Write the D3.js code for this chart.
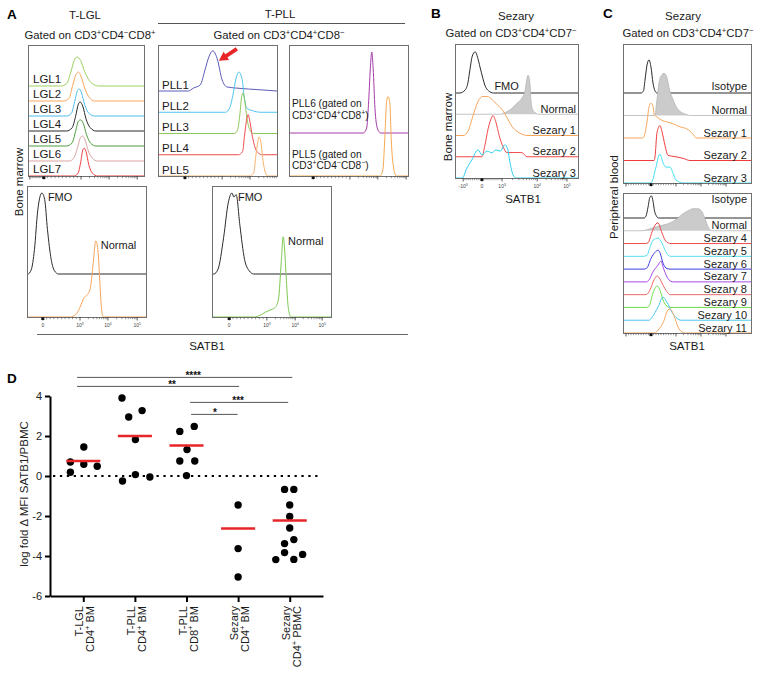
<!DOCTYPE html>
<html><head><meta charset="utf-8">
<script src="https://cdn.jsdelivr.net/npm/d3@7"></script>
<style>body{margin:0;background:#fff}</style>
</head><body><div id="chart"></div>
<script>
// ================= DATA =================
// Panel A, T-LGL overlay (channel 0-256, relative count 0-100)
const lglNames = ["LGL1","LGL2","LGL3","LGL4","LGL5","LGL6","LGL7"];
const lglHist = [
  [[72,0],[85,8],[94,45],[102,88],[108,100],[116,88],[125,50],[134,22],[144,6],[156,0]],
  [[79,0],[91,10],[98,50],[106,92],[111,100],[117,85],[125,45],[134,15],[147,0]],
  [[85,0],[96,10],[103,50],[110,90],[113,93],[118,80],[125,40],[134,10],[147,0]],
  [[85,0],[97,10],[105,50],[111,92],[115,100],[121,85],[128,42],[137,12],[150,0]],
  [[85,0],[97,10],[105,50],[111,85],[116,90],[122,78],[129,40],[138,10],[150,0]],
  [[91,0],[101,10],[110,50],[116,82],[120,86],[126,72],[133,35],[142,10],[153,0]],
  [[100,0],[110,8],[116,45],[121,90],[124,96],[128,85],[134,40],[142,10],[153,0]]
];
// Panel A, T-PLL overlay
const pllNames = ["PLL1","PLL2","PLL3","PLL4","PLL5"];
const pllHist = [
  [[65,0],[76,7],[91,15],[101,51],[110,85],[118,98],[127,80],[138,27],[148,10],[170,7],[219,3]],
  [[145,0],[154,10],[161,41],[168,83],[174,98],[181,80],[185,41],[191,10],[203,4],[221,0]],
  [[164,0],[171,8],[176,45],[180,90],[183,99],[186,85],[191,40],[197,10],[206,0]],
  [[173,0],[182,8],[186,45],[191,88],[194,98],[197,85],[203,45],[209,17],[216,4],[224,0]],
  [[197,0],[206,8],[210,45],[215,85],[217,95],[221,85],[225,45],[230,12],[236,0]]
];
const pllSideLabels = [["PLL6 (gated on","CD3^+CD4^+CD8^+)"],["PLL5 (gated on","CD3^+CD4^−CD8^−)"]];
const pllSideHist = [
  [[160,0],[167,6],[171,35],[175,80],[178,100],[181,80],[185,30],[190,6],[197,0]],
  [[196,0],[202,8],[206,45],[210,92],[213,98],[217,90],[220,45],[225,10],[231,0]]
];
// Panel A, controls
const aCtrlNames = ["FMO","Normal"];
const aCtrlLGL = [
  [[2,0],[9,5],[16,30],[23,78],[32,100],[38,92],[44,55],[52,18],[59,4],[68,0]],
  [[93,0],[105,3],[114,12],[123,24],[129,27],[136,35],[142,64],[148,94],[153,80],[157,40],[160,12],[164,0]]
];
const aCtrlPLL = [
  [[4,0],[13,6],[25,45],[35,88],[43,100],[47,95],[52,98],[60,60],[70,18],[80,4],[90,0]],
  [[91,0],[103,2],[115,6],[127,9],[136,12],[143,22],[149,68],[153,99],[156,85],[160,45],[164,12],[170,0]]
];
// Panel B, Sezary bone marrow
const bNames = ["FMO","Normal","Sezary 1","Sezary 2","Sezary 3"];
const bHist = [
  [[10,0],[21,7],[27,25],[31,55],[36,88],[42,98],[47,85],[52,62],[58,35],[62,19],[70,5],[80,0]],
  [[95,0],[100,2],[114,10],[129,26],[139,38],[146,57],[150,86],[152,93],[156,74],[158,33],[162,10],[169,2],[175,0]],
  [[17,0],[27,10],[37,45],[48,81],[58,93],[67,93],[77,86],[87,74],[98,62],[108,43],[119,21],[129,10],[142,2],[152,0]],
  [[56,0],[62,26],[69,67],[77,95],[79,98],[85,83],[92,50],[100,24],[108,10],[129,10],[139,10],[150,0]],
  [[15,0],[25,24],[35,43],[48,67],[56,55],[67,64],[77,60],[85,67],[94,64],[104,79],[110,67],[114,40],[121,7],[127,0]]
];
// Panel C, Sezary peripheral blood
const cTopNames = ["Isotype","Normal","Sezary 1","Sezary 2","Sezary 3"];
const cTopHist = [
  [[36,0],[41,5],[44,30],[48,65],[52,77],[56,60],[60,23],[64,5],[68,0]],
  [[62,0],[64,2],[68,37],[72,77],[78,95],[82,98],[88,88],[92,65],[100,37],[110,14],[128,2],[135,0]],
  [[40,0],[48,37],[52,72],[56,81],[60,74],[62,56],[68,49],[80,40],[90,37],[100,33],[114,26],[128,21],[134,16],[140,9],[146,0]],
  [[62,0],[65,20],[67,55],[70,74],[74,81],[78,67],[84,35],[90,12],[104,9],[120,5],[134,0]],
  [[56,0],[66,37],[72,65],[74,67],[80,47],[86,37],[94,37],[100,23],[106,7],[120,0]]
];
const cBotNames = ["Isotype","Normal","Sezary 4","Sezary 5","Sezary 6","Sezary 7","Sezary 8","Sezary 9","Sezary 10","Sezary 11"];
const cBotHist = [
  [[42,0],[46,8],[50,45],[54,88],[57,92],[60,70],[63,30],[67,8],[71,0]],
  [[38,0],[54,8],[74,21],[90,29],[108,50],[120,71],[130,83],[140,92],[150,92],[158,79],[164,50],[170,17],[178,0]],
  [[44,0],[50,3],[58,48],[66,82],[70,86],[78,44],[84,15],[90,3],[96,0]],
  [[40,0],[48,4],[54,38],[60,67],[70,76],[78,55],[84,26],[90,5],[96,0]],
  [[42,0],[48,5],[56,45],[64,70],[70,79],[74,68],[80,25],[88,2],[94,0]],
  [[46,0],[52,8],[60,42],[70,70],[76,87],[80,62],[88,21],[96,2],[102,0]],
  [[46,0],[54,20],[62,62],[68,78],[74,65],[80,40],[88,12],[94,0]],
  [[46,0],[52,5],[60,60],[68,89],[74,72],[80,31],[88,5],[94,0]],
  [[52,0],[58,12],[70,55],[80,96],[88,75],[98,33],[108,8],[116,0]],
  [[64,0],[70,12],[80,42],[90,96],[94,100],[102,72],[110,25],[118,4],[124,0]]
];
// flow axis major tick channels (-10^3, 0, 10^3, 10^4, 10^5)
const flowTickLabels = ["-10^3","0","10^3","10^4","10^5"];
const ticksLGL  = [4,35,117,179,241];
const ticksPLL  = [null,58,138,198,260];
const ticksPLL2 = [null,52,131,191,252];
const ticksACtl = [null,34,114,174,237];
const ticksACt2 = [null,37,118,179,237];
const ticksB    = [17,56,98,171,233];
const ticksC    = [6,56,106,156,206];

// Panel D
const dLine1 = ["T-LGL","T-PLL","T-PLL","Sezary","Sezary"];
const dLine2 = ["CD4^+ BM","CD4^+ BM","CD8^+ BM","CD4^+ BM","CD4^+ PBMC"];
const dValues = [
  [0.70,0.19,1.45,0.59,0.49],
  [3.90,2.95,3.27,1.82,-0.25,0.07,-0.05],
  [2.23,2.48,1.32,0.75,0.75,0.02],
  [-1.45,-3.63,-5.05],
  [-0.67,-0.67,-1.45,-2.02,-2.60,-3.38,-3.18,-3.83,-4.18,-4.17,-3.92]
];
const dJitter = [
  [-0.25,-0.25,0.01,0.01,0.27],
  [-0.25,-0.12,0.14,0.01,-0.24,0.01,0.29],
  [-0.13,0.15,0.01,-0.13,0.16,0],
  [0,0,0],
  [-0.1,0.08,0,0,0,-0.1,0.08,-0.1,-0.27,0.08,0.25]
];
const dMeans = [0.75,2.0,1.52,-2.63,-2.23];
const dYTicks = [-6,-4,-2,0,2,4];
const dSig = [
  {from:-0.12,to:4.05,level:4.93,label:"****",at:2.13},
  {from:-0.12,to:3.02,level:4.48,label:"**",at:1.72},
  {from:2.07,to:3.97,level:3.68,label:"***",at:3.0},
  {from:2.09,to:2.99,level:3.08,label:"*",at:2.55}
];

// ================= DRAWING =================
const F = '"Liberation Sans", Arial, Helvetica, sans-serif';
const svg = d3.select("#chart").append("svg").attr("width",764).attr("height",673)
  .style("font-family",F).style("background","#fff");

function rich(sel, s, fs){
  const parts = s.split(/\^(.)/);
  const sh = fs*0.38; let up=false;
  parts.forEach((p,i)=>{
    if(p==="") return;
    const t = sel.append("tspan").text(p);
    if(i%2===1){ t.attr("font-size",fs*0.68).attr("dy",-sh); up=true; }
    else { t.attr("font-size",fs); if(up){ t.attr("dy",sh); up=false; } }
  });
  return sel;
}
function txt(x,y,s,o={}){
  const fs=o.fs||11;
  const t = svg.append("text").attr("font-size",fs).attr("text-anchor",o.anchor||"start")
    .attr("font-weight",o.weight||"normal").attr("fill",o.fill||"#1a1a1a");
  if(o.rot) t.attr("transform",`translate(${x},${y}) rotate(${o.rot})`); else t.attr("x",x).attr("y",y);
  rich(t,s,fs);
  return t;
}

function flowPanel(cfg){
  const g = svg.append("g");
  const x = d3.scaleLinear().domain([0,256]).range([cfg.left,cfg.right]);
  const laneY = d3.scaleLinear().domain([0,cfg.hist.length-1]).range([cfg.firstBase,cfg.bottom]);
  const hy = d3.scaleLinear().domain([0,100]).range([0,cfg.peakPx]);
  cfg.hist.forEach((data,i)=>{
    const base = laneY(i);
    const pts = [[0,0],...data,[256,0]];
    const line = d3.line().x(d=>x(d[0])).y(d=>base-hy(d[1])).curve(d3.curveMonotoneX);
    if(cfg.fills && cfg.fills[i]){
      const area = d3.area().x(d=>x(d[0])).y0(base).y1(d=>base-hy(d[1])).curve(d3.curveMonotoneX);
      g.append("path").attr("d",area(pts)).attr("fill",cfg.fills[i]);
      g.append("path").attr("d",line(pts)).attr("fill","none").attr("stroke","#b5b5b5").attr("stroke-width",0.8);
    } else {
      g.append("path").attr("d",line(pts)).attr("fill","none").attr("stroke",cfg.colors[i]).attr("stroke-width",cfg.sw||1);
    }
  });
  g.append("rect").attr("x",cfg.left+0.5).attr("y",cfg.top+0.5)
    .attr("width",cfg.right-cfg.left).attr("height",cfg.bottom-cfg.top)
    .attr("fill","none").attr("stroke","#707070").attr("stroke-width",1);
  // ticks
  const m = cfg.ticks, minors=[];
  const lin=(a,b)=>{for(let k=1;k<10;k++) minors.push(a+(b-a)*k/10);};
  const lg=(a,b)=>{for(let k=2;k<10;k++) minors.push(a+(b-a)*Math.log10(k));};
  if(m[0]!=null) lin(m[0],m[1]);
  lin(m[1],m[2]); lg(m[2],m[3]); lg(m[3],m[4]);
  const inR = c=>c>=0&&c<=256;
  g.selectAll(null).data(minors.filter(inR)).join("line")
    .attr("x1",d=>x(d)).attr("x2",d=>x(d)).attr("y1",cfg.bottom).attr("y2",cfg.bottom+2.2)
    .attr("stroke","#555").attr("stroke-width",0.6);
  const majors = m.map((c,i)=>({c,i})).filter(d=>d.c!=null&&inR(d.c));
  g.selectAll(null).data(majors).join("line")
    .attr("x1",d=>x(d.c)).attr("x2",d=>x(d.c)).attr("y1",cfg.bottom).attr("y2",cfg.bottom+3.5)
    .attr("stroke","#333").attr("stroke-width",0.8);
  g.append("rect").attr("x",x(m[1])-1.5).attr("y",cfg.bottom+0.5).attr("width",3).attr("height",2.5).attr("fill","#111");
  if(cfg.tickLabels){
    majors.forEach(d=>{
      const t = g.append("text").attr("x",x(d.c)).attr("y",cfg.bottom+10).attr("font-size",5)
        .attr("text-anchor","middle").attr("fill","#444");
      rich(t,flowTickLabels[d.i],5);
    });
  }
  return {x,laneY,hy};
}

// ---------- Panel A ----------
txt(7,19,"A",{fs:13.5,weight:"bold",fill:"#000"});
txt(85,19,"T-LGL",{fs:11.5,anchor:"middle"});
txt(280,18,"T-PLL",{fs:11.5,anchor:"middle"});
svg.append("line").attr("x1",158).attr("x2",405).attr("y1",23.5).attr("y2",23.5).attr("stroke","#555");
txt(90,39,"Gated on CD3^+CD4^−CD8^+",{fs:11.3,anchor:"middle"});
txt(279,39,"Gated on CD3^+CD4^+CD8^−",{fs:11.3,anchor:"middle"});

const lglCols = ["#9ccf5e","#f9a85a","#4bbde9","#2b2b2b","#4c9c3c","#dba3a3","#ef4040"];
const pL = flowPanel({left:28,right:144,top:45,bottom:176,firstBase:86,peakPx:29,hist:lglHist,colors:lglCols,ticks:ticksLGL});
lglNames.forEach((n,i)=>txt(33,pL.laneY(i)-3.5,n,{fs:11.5}));

const pllCols = ["#5c5cb8","#4cc3f0","#8dc85a","#ee4b4b","#f9b26a"];
const pP = flowPanel({left:158,right:277,top:45,bottom:176,firstBase:91,peakPx:41,hist:pllHist,colors:pllCols,ticks:ticksPLL});
pllNames.forEach((n,i)=>txt(162,pP.laneY(i)-2.5,n,{fs:11.5}));
// arrow pointing to PLL1 peak
{
  const pk = pllHist[0].reduce((a,b)=>b[1]>a[1]?b:a);
  const tip=[pP.x(pk[0])+6, pP.laneY(0)-pP.hy(pk[1])+10];
  const tail=[tip[0]+18, tip[1]-12];
  const dx=tail[0]-tip[0], dy=tail[1]-tip[1], L=Math.hypot(dx,dy), ux=dx/L, uy=dy/L, px=-uy, py=ux;
  const hl=9, hw=5, sw=1.9;
  const b=[tip[0]+ux*hl, tip[1]+uy*hl];
  const pts=[tip,[b[0]+px*hw,b[1]+py*hw],[b[0]+px*sw,b[1]+py*sw],[tail[0]+px*sw,tail[1]+py*sw],
             [tail[0]-px*sw,tail[1]-py*sw],[b[0]-px*sw,b[1]-py*sw],[b[0]-px*hw,b[1]-py*hw]];
  svg.append("path").attr("d","M"+pts.map(p=>p.join(",")).join("L")+"Z").attr("fill","#e8262a");
}

const pS = flowPanel({left:289,right:408,top:45,bottom:176,firstBase:133,peakPx:81,hist:pllSideHist,colors:["#a43ca8","#f7a850"],ticks:ticksPLL2});
const sideLabelTop = [-26,-18.5];
pllSideLabels.forEach((ls,i)=>{
  const base=pS.laneY(i);
  const t = svg.append("text").attr("font-size",10.2).attr("fill","#1a1a1a");
  t.append("tspan").attr("x",292).attr("y",base+sideLabelTop[i]).text(ls[0]);
  const l2 = t.append("tspan").attr("x",292).attr("dy",11.8);
  rich(l2,ls[1],10.2);
});

const pA1 = flowPanel({left:27,right:146,top:186,bottom:317,firstBase:274,peakPx:81,hist:aCtrlLGL,colors:["#2b2b2b","#f8a45a"],ticks:ticksACtl,tickLabels:true});
const pA2 = flowPanel({left:212,right:331,top:186,bottom:317,firstBase:274,peakPx:81,hist:aCtrlPLL,colors:["#2b2b2b","#7cc850"],ticks:ticksACt2,tickLabels:true});
[[pA1,aCtrlLGL],[pA2,aCtrlPLL]].forEach(([p,h])=>{
  h.forEach((d,i)=>{
    const pk=d.reduce((a,b)=>b[1]>a[1]?b:a);
    txt(p.x(pk[0])+(i===0?6:5), p.laneY(i)-p.hy(pk[1])+8, aCtrlNames[i],{fs:11});
  });
});
svg.append("line").attr("x1",37).attr("x2",408).attr("y1",334.5).attr("y2",334.5).attr("stroke","#666");
txt(207,350,"SATB1",{fs:11.5,anchor:"middle"});
txt(23,182,"Bone marrow",{fs:11.5,anchor:"middle",rot:-90});

// ---------- Panel B ----------
txt(431,18,"B",{fs:13.5,weight:"bold",fill:"#000"});
txt(516,20,"Sezary",{fs:11.5,anchor:"middle"});
txt(511,37,"Gated on CD3^+CD4^+CD7^−",{fs:11.3,anchor:"middle"});
const pB = flowPanel({left:455,right:578,top:44,bottom:178,firstBase:93,peakPx:42,hist:bHist,
  colors:["#2b2b2b",null,"#f8a45a","#f04a4a","#2fd0f0"],fills:[null,"#cbcbcb",null,null,null],ticks:ticksB,tickLabels:true});
bNames.forEach((n,i)=>{
  if(i===0) txt(pB.x(82),pB.laneY(i)-3,n,{fs:11});
  else txt(576,pB.laneY(i)-1.5,n,{fs:11,anchor:"end"});
});
txt(523,203,"SATB1",{fs:11.5,anchor:"middle"});
txt(452,127,"Bone marrow",{fs:11.5,anchor:"middle",rot:-90});

// ---------- Panel C ----------
txt(603,18,"C",{fs:13.5,weight:"bold",fill:"#000"});
txt(683,20,"Sezary",{fs:11.5,anchor:"middle"});
txt(688,37,"Gated on CD3^+CD4^+CD7^−",{fs:11.3,anchor:"middle"});
const pC1 = flowPanel({left:623,right:751,top:44,bottom:183,firstBase:93,peakPx:43,hist:cTopHist,
  colors:["#2b2b2b",null,"#f8a860","#f03c3c","#3fe0f0"],fills:[null,"#cbcbcb",null,null,null],ticks:ticksC});
cTopNames.forEach((n,i)=>txt(747,pC1.laneY(i)-(i===0?3.5:1.5),n,{fs:11,anchor:"end"}));
const pC2 = flowPanel({left:623,right:751,top:193,bottom:333,firstBase:218,peakPx:24,hist:cBotHist,
  colors:["#2b2b2b",null,"#ef4a4a","#55e0f0","#3b3be0","#a64ce6","#f06a6a","#6ee04a","#4cc8f2","#f8a860"],
  fills:[null,"#cbcbcb"],ticks:ticksC});
cBotNames.forEach((n,i)=>txt(747,pC2.laneY(i)-(i===0?15:1.5),n,{fs:11,anchor:"end"}));
txt(687,350,"SATB1",{fs:11.5,anchor:"middle"});
txt(618,197,"Peripheral blood",{fs:11.5,anchor:"middle",rot:-90});

// ---------- Panel D ----------
txt(7,383,"D",{fs:13.5,weight:"bold",fill:"#000"});
const yD = d3.scaleLinear().domain([-6,4]).range([596,396]);
const xD = d3.scalePoint().domain(d3.range(5)).range([50,323]).padding(0.645);
const xi = d3.scaleLinear().domain([0,4]).range([xD(0),xD(4)]);
const step = xD.step();

// zero dotted line
svg.append("line").attr("x1",53).attr("x2",318).attr("y1",yD(0)).attr("y2",yD(0))
  .attr("stroke","#000").attr("stroke-width",2.2).attr("stroke-dasharray","2.3,4.6");

const gy = svg.append("g").attr("transform","translate(50,0)")
  .call(d3.axisLeft(yD).tickValues(dYTicks).tickSize(5).tickSizeOuter(0).tickPadding(3).tickFormat(d=>String(d)));
gy.select(".domain").attr("stroke-width",2);
gy.selectAll(".tick line").attr("stroke-width",2);
gy.selectAll(".tick text").attr("font-size",11).attr("font-family",F).attr("fill","#222");

const gx = svg.append("g").attr("transform","translate(0,596)")
  .call(d3.axisBottom(xD).tickSize(6).tickSizeOuter(0).tickFormat(()=>""));
gx.select(".domain").attr("stroke-width",2);
gx.selectAll(".tick line").attr("stroke-width",2);

dLine1.forEach((l1,i)=>{
  const g = svg.append("text").attr("font-size",11).attr("text-anchor","end").attr("fill","#1a1a1a")
    .attr("transform",`translate(${xD(i)},606) rotate(-90)`);
  g.append("tspan").attr("x",0).attr("y",0).text(l1);
  const t2 = svg.append("text").attr("font-size",11).attr("text-anchor","end").attr("fill","#1a1a1a")
    .attr("transform",`translate(${xD(i)+11},606) rotate(-90)`);
  rich(t2,dLine2[i],11);
});
txt(28,494,"log fold Δ MFI SATB1/PBMC",{fs:11.5,anchor:"middle",rot:-90});

dValues.forEach((vals,i)=>{
  svg.selectAll(null).data(vals).join("circle")
    .attr("cx",(d,j)=>xD(i)+dJitter[i][j]*step).attr("cy",d=>yD(d)).attr("r",3.7).attr("fill","#000");
});
svg.selectAll(null).data(dMeans).join("line")
  .attr("x1",(d,i)=>xD(i)-0.33*step).attr("x2",(d,i)=>xD(i)+0.33*step)
  .attr("y1",d=>yD(d)).attr("y2",d=>yD(d)).attr("stroke","#e8262a").attr("stroke-width",2.5);

dSig.forEach(s=>{
  svg.append("line").attr("x1",xi(s.from)).attr("x2",xi(s.to)).attr("y1",yD(s.level)).attr("y2",yD(s.level))
    .attr("stroke","#555").attr("stroke-width",1);
  svg.append("text").attr("x",xi(s.at)).attr("y",yD(s.level)+1.5).attr("text-anchor","middle")
    .attr("font-size",10).attr("font-weight","bold").attr("fill","#111").text(s.label);
});
</script>
</body></html>
